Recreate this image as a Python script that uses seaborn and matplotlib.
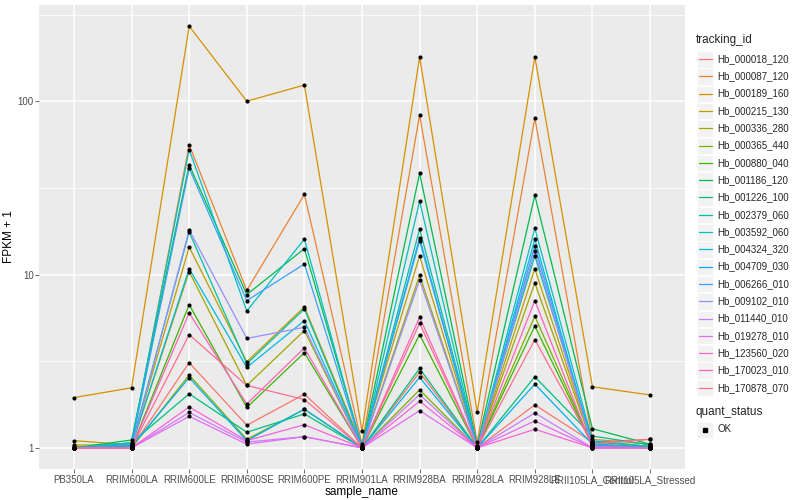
import matplotlib
matplotlib.use('Agg')
import pandas as pd
import matplotlib.pyplot as plt
import seaborn as sns
from matplotlib.lines import Line2D
from matplotlib.patches import Rectangle
from matplotlib.ticker import FixedLocator, NullFormatter


samples = ['PB350LA', 'RRIM600LA', 'RRIM600LE', 'RRIM600SE', 'RRIM600PE', 'RRIM901LA',
           'RRIM928BA', 'RRIM928LA', 'RRIM928LE', 'RRII105LA_Control', 'RRII105LA_Stressed']

tracking_ids = ['Hb_000018_120', 'Hb_000087_120', 'Hb_000189_160', 'Hb_000215_130',
                'Hb_000336_280', 'Hb_000365_440', 'Hb_000880_040', 'Hb_001186_120',
                'Hb_001226_100', 'Hb_002379_060', 'Hb_003592_060', 'Hb_004324_320',
                'Hb_004709_030', 'Hb_006266_010', 'Hb_009102_010', 'Hb_011440_010',
                'Hb_019278_010', 'Hb_123560_020', 'Hb_170023_010', 'Hb_170878_070']

# FPKM + 1, one list per gene, in the order of samples
hb_000018_120 = [1.0, 1.0, 3.1, 1.35, 2.04, 1.0, 2.73, 1.0, 1.77, 1.08, 1.12]
hb_000087_120 = [1.0, 1.04, 56, 8.1, 29, 1.05, 83, 1.08, 80, 1.12, 1.05]
hb_000189_160 = [1.95, 2.22, 271, 100, 124, 1.25, 180, 1.61, 180, 2.25, 2.02]
hb_000215_130 = [1.10, 1.04, 14.4, 3.14, 6.5, 1.03, 12.8, 1.0, 10.8, 1.05, 1.02]
hb_000336_280 = [1.04, 1.03, 10.4, 2.29, 4.75, 1.0, 9.9, 1.0, 8.95, 1.04, 1.0]
hb_000365_440 = [1.02, 1.0, 2.63, 1.12, 1.67, 1.0, 2.16, 1.0, 5.74, 1.03, 1.0]
hb_000880_040 = [1.0, 1.0, 6.7, 1.71, 3.54, 1.0, 4.5, 1.0, 5.05, 1.03, 1.0]
hb_001186_120 = [1.0, 1.11, 43, 7.66, 14.1, 1.02, 38.4, 1.03, 28.6, 1.29, 1.05]
hb_001226_100 = [1.0, 1.07, 2.05, 1.23, 1.57, 1.0, 2.87, 1.0, 2.57, 1.17, 1.04]
hb_002379_060 = [1.0, 1.04, 17.6, 3.05, 6.34, 1.0, 18.3, 1.02, 12.8, 1.08, 1.02]
hb_003592_060 = [1.0, 1.07, 52.6, 6.16, 16.0, 1.0, 26.5, 1.0, 18.5, 1.1, 1.02]
hb_004324_320 = [1.0, 1.03, 10.8, 2.91, 5.42, 1.0, 15.7, 1.0, 16.0, 1.03, 1.0]
hb_004709_030 = [1.0, 1.02, 2.54, 1.1, 1.67, 1.0, 2.55, 1.0, 2.33, 1.05, 1.0]
hb_006266_010 = [1.0, 1.04, 41, 7.07, 11.5, 1.0, 16.3, 1.0, 14.6, 1.05, 1.0]
hb_009102_010 = [1.0, 1.0, 18.1, 4.28, 4.96, 1.0, 9.3, 1.0, 13.6, 1.02, 1.0]
hb_011440_010 = [1.0, 1.0, 1.6, 1.08, 1.16, 1.0, 2.03, 1.0, 1.59, 1.0, 1.0]
hb_019278_010 = [1.0, 1.0, 1.52, 1.05, 1.16, 1.0, 1.64, 1.0, 1.43, 1.0, 1.0]
hb_123560_020 = [1.0, 1.0, 1.72, 1.1, 1.36, 1.0, 1.86, 1.0, 1.28, 1.0, 1.0]
hb_170023_010 = [1.0, 1.0, 6.0, 1.79, 3.77, 1.0, 5.67, 1.0, 7.07, 1.0, 1.0]
hb_170878_070 = [1.0, 1.0, 4.5, 2.29, 1.9, 1.0, 5.23, 1.0, 4.21, 1.05, 1.12]

series = [hb_000018_120, hb_000087_120, hb_000189_160, hb_000215_130, hb_000336_280,
          hb_000365_440, hb_000880_040, hb_001186_120, hb_001226_100, hb_002379_060,
          hb_003592_060, hb_004324_320, hb_004709_030, hb_006266_010, hb_009102_010,
          hb_011440_010, hb_019278_010, hb_123560_020, hb_170023_010, hb_170878_070]

rows = []
for tid, vals in zip(tracking_ids, series):
    for s, v in zip(samples, vals):
        rows.append({'tracking_id': tid, 'sample_name': s, 'pos': samples.index(s), 'fpkm': v})
df = pd.DataFrame(rows)

# ggplot2 default hue palette for 20 levels
colors = ['#F8766D', '#EA8331', '#D89000', '#C09B00', '#A3A500', '#7CAE00', '#39B600',
          '#00BB4E', '#00BF7D', '#00C1A3', '#00BFC4', '#00BAE0', '#00B0F6', '#35A2FF',
          '#9590FF', '#C77CFF', '#E76BF3', '#FA62DB', '#FF62BC', '#FF6C91']
palette = dict(zip(tracking_ids, colors))

sns.set_theme(style='darkgrid', rc={'axes.facecolor': '#EBEBEB', 'grid.color': 'white'})
plt.rcParams['font.family'] = ['Liberation Sans', 'DejaVu Sans']

fig = plt.figure(figsize=(8, 5), dpi=100)
ax = fig.add_axes([39.4 / 800, 31 / 500, (684.6 - 39.4) / 800, (469 - 5) / 500])

sns.lineplot(data=df, x='pos', y='fpkm', hue='tracking_id', palette=palette,
             estimator=None, sort=False, legend=False, linewidth=0.9, ax=ax)
sns.scatterplot(data=df, x='pos', y='fpkm', color='black', s=9, linewidth=0,
                legend=False, ax=ax, zorder=3)

ax.set_yscale('log')
ax.set_ylim(0.755, 359)
ax.set_xlim(-0.6, len(samples) - 0.4)
ax.set_xticks(range(len(samples)))
ax.set_xticklabels(samples)
ax.yaxis.set_major_locator(FixedLocator([1, 10, 100]))
ax.set_yticklabels(['1', '10', '100'])
ax.yaxis.set_minor_locator(FixedLocator([10 ** 0.5, 10 ** 1.5, 10 ** 2.5]))
ax.yaxis.set_minor_formatter(NullFormatter())
ax.grid(which='major', color='white', linewidth=1.1)
ax.grid(which='minor', axis='y', color='white', linewidth=0.55)
ax.tick_params(axis='both', which='major', labelsize=7, labelcolor='#4D4D4D',
               length=2.7, width=0.5, color='#333333', bottom=True, left=True, pad=1.5)
ax.tick_params(axis='y', which='minor', length=0)
for sp in ax.spines.values():
    sp.set_visible(False)
ax.set_xlabel('sample_name', fontsize=8.5, color='black', labelpad=1)
ax.set_ylabel('FPKM + 1', fontsize=8.5, color='black', labelpad=2)


# legend drawn in figure pixels, ggplot style
def fx(px):
    return px / 800


def fy(py):
    return (500 - py) / 500


fig.text(fx(696), fy(40), 'tracking_id', fontsize=8.5, va='center', ha='left')
step = 17.3
for i, tid in enumerate(tracking_ids):
    top = 50.5 + i * step
    fig.patches.append(Rectangle((fx(697), fy(top + 17)), 16 / 800, 16.5 / 500,
                                 transform=fig.transFigure, facecolor='#F2F2F2',
                                 edgecolor='white', linewidth=0.5))
    fig.lines.append(Line2D([fx(698.5), fx(712)], [fy(top + 8.5)] * 2, color=colors[i],
                            linewidth=0.9, transform=fig.transFigure))
    fig.text(fx(717), fy(top + 8.5), tid, fontsize=7, va='center', ha='left')

fig.text(fx(696), fy(411.5), 'quant_status', fontsize=8.5, va='center', ha='left')
fig.patches.append(Rectangle((fx(697), fy(438)), 16 / 800, 16.5 / 500,
                             transform=fig.transFigure, facecolor='#F2F2F2',
                             edgecolor='white', linewidth=0.5))
fig.lines.append(Line2D([fx(705)], [fy(429.5)], marker='s', markersize=2.5, color='black',
                        linestyle='none', transform=fig.transFigure))
fig.text(fx(717), fy(429.5), 'OK', fontsize=7, va='center', ha='left')

fig.savefig('out.png', dpi=100)
